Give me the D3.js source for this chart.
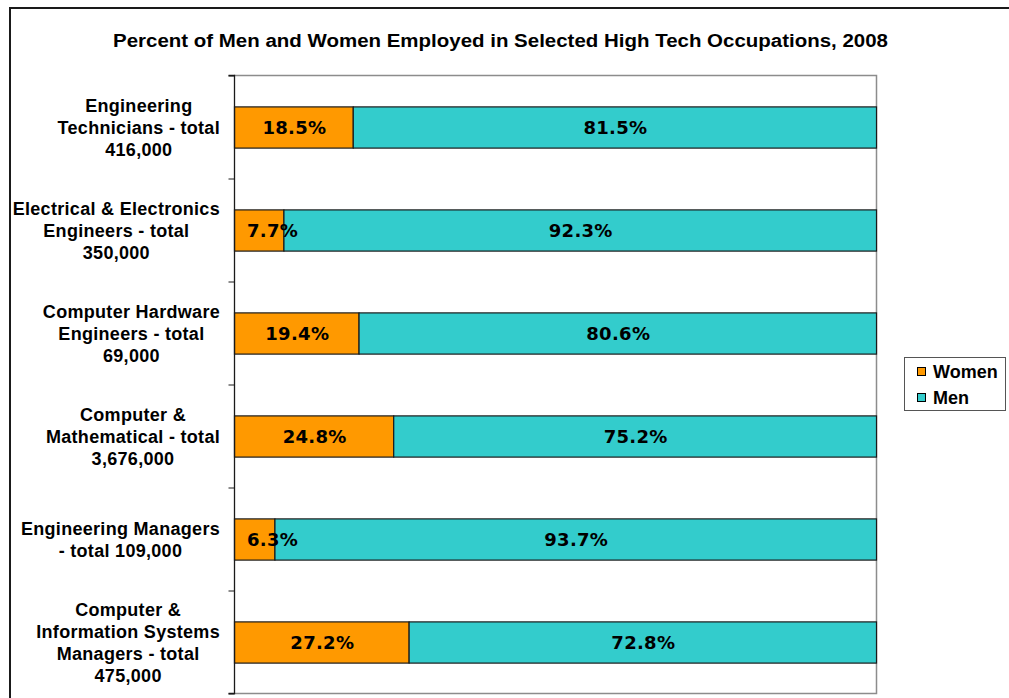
<!DOCTYPE html>
<html>
<head>
<meta charset="utf-8">
<script src="https://cdn.jsdelivr.net/npm/d3@7"></script>
<style>
  html, body { margin: 0; padding: 0; background: #fff; }
  svg { display: block; }
</style>
</head>
<body>
<svg id="chart" width="1009" height="698"></svg>
<script>
// ---- data ----
const title = "Percent of Men and Women Employed in Selected High Tech Occupations, 2008";
const categoryLines = [
  ["Engineering", "Technicians - total", "416,000"],
  ["Electrical & Electronics", "Engineers - total", "350,000"],
  ["Computer Hardware", "Engineers - total", "69,000"],
  ["Computer &", "Mathematical - total", "3,676,000"],
  ["Engineering Managers", "- total 109,000"],
  ["Computer &", "Information Systems", "Managers - total", "475,000"]
];
const women = [18.5, 7.7, 19.4, 24.8, 6.3, 27.2];
const men = [81.5, 92.3, 80.6, 75.2, 93.7, 72.8];
const seriesNames = ["Women", "Men"];
const seriesColors = ["#FF9900", "#33CCCC"];

// ---- layout ----
const svg = d3.select("#chart");
const plot = { left: 234, right: 876, top: 75, bottom: 693 };
const ids = categoryLines.map((d, i) => i);

const x = d3.scaleLinear().domain([0, 100]).range([plot.left, plot.right]);
const y = d3.scaleBand().domain(ids).range([plot.top + 1, plot.bottom + 1])
  .paddingInner(0.6).paddingOuter(0.3);
const yEdges = d3.scaleLinear().domain([0, ids.length]).range([plot.top, plot.bottom]);

// outer chart frame
svg.append("rect")
  .attr("x", 10).attr("y", 8)
  .attr("width", 1100).attr("height", 800)
  .attr("fill", "none").attr("stroke", "#1a1a1a").attr("stroke-width", 2);

// title
svg.append("text")
  .attr("x", 500.5).attr("y", 47)
  .attr("text-anchor", "middle")
  .attr("font-family", "Liberation Sans, Arial, sans-serif")
  .attr("font-weight", "bold")
  .attr("font-size", 18)
  .attr("textLength", 775)
  .attr("lengthAdjust", "spacingAndGlyphs")
  .attr("fill", "#000")
  .text(title);

// plot area border (gray)
const g = svg.append("g");
g.append("path")
  .attr("d", `M${plot.left},${plot.top + 0.5}H${plot.right + 0.5}V${plot.bottom + 0.5}H${plot.left}`)
  .attr("fill", "none").attr("stroke", "#8c8c8c").attr("stroke-width", 1.5);

// stacked data
const stacked = ids.map(i => {
  return [
    { s: 0, i, x0: 0, x1: women[i], v: women[i] },
    { s: 1, i, x0: women[i], x1: women[i] + men[i], v: men[i] }
  ];
}).flat();

g.selectAll("rect.bar").data(stacked).join("rect")
  .attr("class", "bar")
  .attr("x", d => x(d.x0) + 0.5)
  .attr("y", d => y(d.i))
  .attr("width", d => x(d.x1) - x(d.x0))
  .attr("height", y.bandwidth())
  .attr("fill", d => seriesColors[d.s])
  .attr("stroke", "#1a1a1a").attr("stroke-width", 1.2);

// value labels
const vl = g.selectAll("text.val").data(stacked).join("text")
  .attr("class", "val")
  .attr("y", d => y(d.i) + y.bandwidth() / 2)
  .attr("dy", "0.36em")
  .attr("text-anchor", "middle")
  .attr("font-family", "DejaVu Sans, Verdana, sans-serif")
  .attr("font-weight", "bold")
  .attr("font-size", 18)
  .attr("letter-spacing", 0.3)
  .attr("fill", "#000")
  .text(d => d.v.toFixed(1) + "%");
vl.each(function(d) {
  const w = this.getComputedTextLength();
  let cx = (x(d.x0) + x(d.x1)) / 2 + 1;
  const minCx = plot.left + 13 + w / 2;
  if (cx < minCx) cx = minCx;
  d3.select(this).attr("x", cx);
});

// left axis
const axis = d3.axisLeft(yEdges).tickValues(d3.range(ids.length + 1))
  .tickSize(6).tickFormat("");
const ax = svg.append("g").attr("transform", `translate(${plot.left + 0.5},0.5)`).call(axis);
ax.select(".domain").attr("stroke", "#1a1a1a").attr("stroke-width", 1.3).attr("d", `M-6,${plot.top}H0V${plot.bottom}H-6`);
ax.selectAll(".tick line").attr("stroke", "#1a1a1a");

// category labels
const lineH = 22;
const labelRight = 220;
ids.forEach(i => {
  const lines = categoryLines[i];
  const cy = y(i) + y.bandwidth() / 2;
  const tg = svg.append("g");
  const texts = tg.selectAll("text").data(lines).join("text")
    .attr("font-family", "Liberation Sans, Arial, sans-serif")
    .attr("font-weight", "bold")
    .attr("font-size", 18)
    .attr("letter-spacing", 0.3)
    .attr("text-anchor", "middle")
    .attr("fill", "#000")
    .attr("y", (d, k) => cy + (k - (lines.length - 1) / 2) * lineH + 6.5)
    .text(d => d);
  let maxW = 0;
  texts.each(function() { maxW = Math.max(maxW, this.getComputedTextLength()); });
  texts.attr("x", labelRight - maxW / 2);
});

// legend
const lg = svg.append("g");
lg.append("rect")
  .attr("x", 904.5).attr("y", 357.5).attr("width", 101).attr("height", 53)
  .attr("fill", "#fff").attr("stroke", "#555").attr("stroke-width", 1);
seriesNames.forEach((name, k) => {
  lg.append("rect")
    .attr("x", 917.5).attr("y", 367.5 + k * 26).attr("width", 8).attr("height", 8)
    .attr("fill", seriesColors[k]).attr("stroke", "#000").attr("stroke-width", 1);
  lg.append("text")
    .attr("x", 933).attr("y", 378 + k * 26)
    .attr("font-family", "Liberation Sans, Arial, sans-serif")
    .attr("font-weight", "bold")
    .attr("font-size", 18)
    .attr("fill", "#000")
    .text(name);
});
</script>
</body>
</html>
